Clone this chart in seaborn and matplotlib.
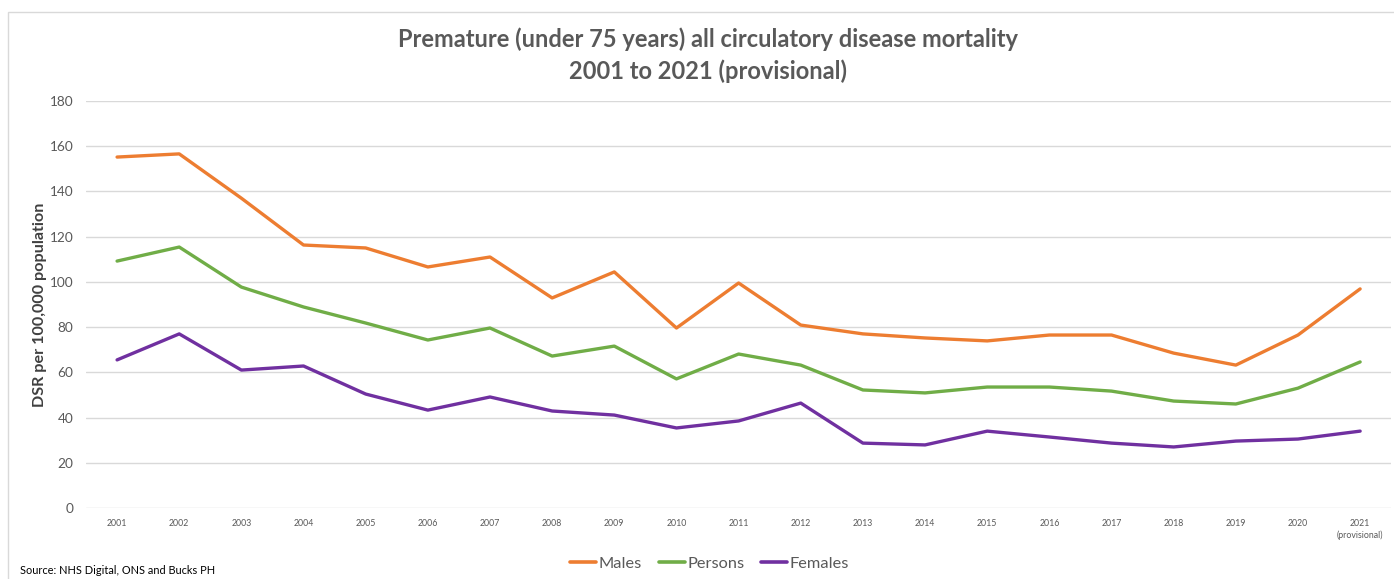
import numpy as np
import pandas as pd
import matplotlib.pyplot as plt
import seaborn as sns
from matplotlib.patches import Rectangle

# =====================================================
# DATA
# =====================================================

years = [str(y) for y in range(2001, 2021)] + ["2021\n(provisional)"]

males = [155.2, 156.6, 137.0, 116.3, 115.0, 106.6, 111.0, 92.9, 104.4, 79.6,
         99.5, 80.9, 77.0, 75.2, 73.9, 76.5, 76.5, 68.5, 63.2, 76.5, 96.9]
persons = [109.2, 115.4, 97.7, 88.9, 81.8, 74.3, 79.6, 67.2, 71.6, 57.1,
           68.1, 63.2, 52.2, 50.9, 53.5, 53.5, 51.7, 47.3, 46.0, 53.0, 64.6]
females = [65.5, 77.0, 61.0, 62.8, 50.4, 43.3, 49.1, 42.9, 41.1, 35.4,
           38.5, 46.4, 28.7, 27.9, 34.0, 31.4, 28.7, 27.0, 29.6, 30.5, 34.0]

series_names = ["Males", "Persons", "Females"]
colours = ["#ED7D31", "#70AD47", "#7030A0"]

df = pd.DataFrame({
    "pos": list(range(len(years))) * 3,
    "value": males + persons + females,
    "series": np.repeat(series_names, len(years)),
})

# =====================================================
# PLOT
# =====================================================

sns.set_style("white")
plt.rcParams["font.family"] = ["Lato", "DejaVu Sans"]

fig = plt.figure(figsize=(13.94, 5.79), dpi=100)
ax = fig.add_axes([0.0617, 0.1226, 0.9363, 0.703])

sns.lineplot(
    data=df,
    x="pos",
    y="value",
    hue="series",
    hue_order=series_names,
    palette=colours,
    linewidth=2.4,
    ax=ax,
    legend=False,
)

ax.set_xlim(-0.5, len(years) - 0.5)
ax.set_ylim(0, 180)
ax.set_yticks(range(0, 181, 20))
ax.set_xticks(range(len(years)))
ax.set_xticklabels(years, fontsize=6.3, color="#595959", linespacing=1.3)
ax.tick_params(axis="y", labelsize=9.8, labelcolor="#595959", length=0, pad=9)
ax.tick_params(axis="x", length=0, pad=8)
ax.yaxis.grid(True, color="#D9D9D9", linewidth=1)
ax.set_axisbelow(True)
for s in ax.spines.values():
    s.set_visible(False)

ax.set_xlabel("")
ax.set_ylabel("DSR per 100,000 population", fontsize=11.6, fontweight="bold",
              color="#404040", labelpad=2)

fig.text(0.508, 0.932, "Premature (under 75 years) all circulatory disease mortality",
         ha="center", va="center", fontsize=17, fontweight="bold", color="#595959")
fig.text(0.508, 0.877, "2001 to 2021 (provisional)",
         ha="center", va="center", fontsize=17, fontweight="bold", color="#595959")

handles = [plt.Line2D([], [], color=c, linewidth=2.6) for c in colours]
fig.legend(handles, series_names, loc="center", bbox_to_anchor=(0.509, 0.027),
           ncol=3, frameon=False, fontsize=11.8, handlelength=1.6,
           handletextpad=0.15, columnspacing=1.0, labelcolor="#595959")

fig.text(0.014, 0.005, "Source: NHS Digital, ONS and Bucks PH",
         ha="left", va="bottom", fontsize=7.9, color="#000000")

fig.patches.append(Rectangle((8 / 1394, -0.02), 1.0, 1 - 12 / 579 + 0.02,
                             transform=fig.transFigure, fill=False,
                             edgecolor="#D9D9D9", linewidth=1))

fig.savefig("out.png", dpi=100)
plt.close(fig)
